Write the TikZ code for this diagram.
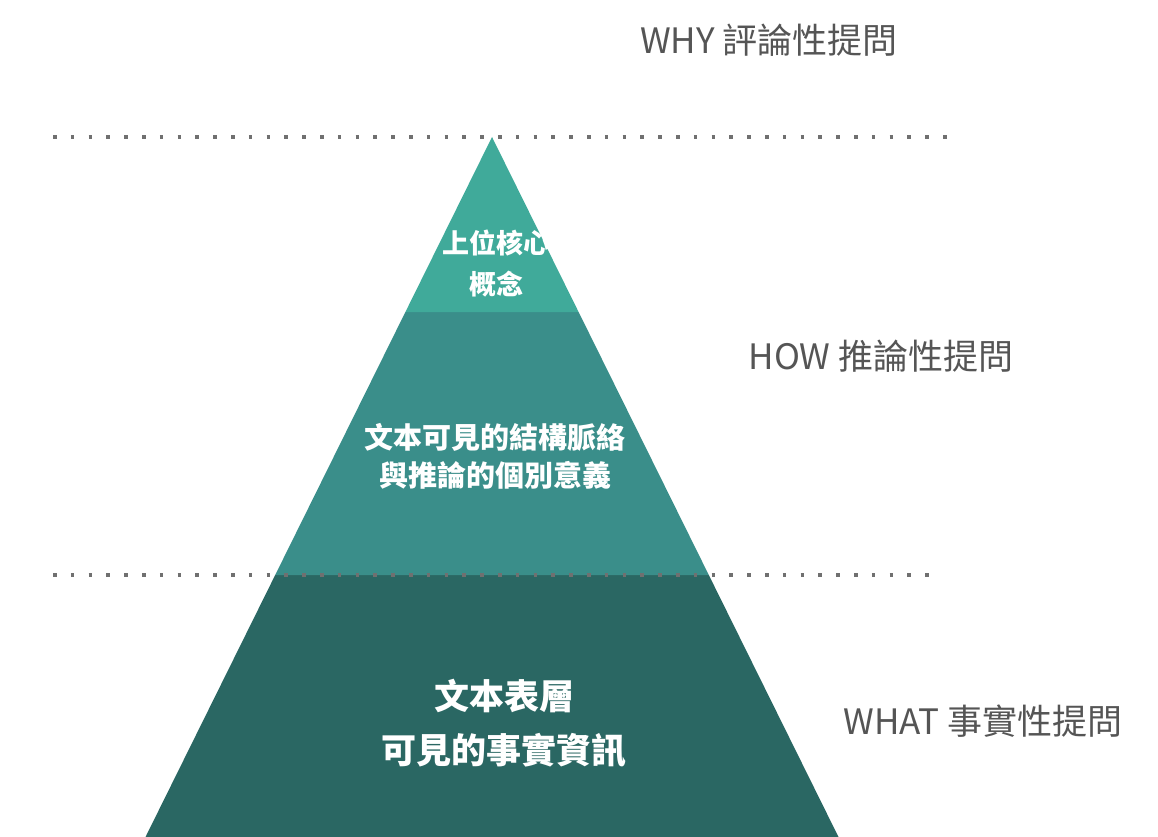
\documentclass[tikz,border=0pt]{standalone}
\usepackage{fontspec}
\setmainfont{Noto Sans CJK TC}
\newfontfamily\cjkfont{Noto Sans CJK TC}
\definecolor{bandtop}{HTML}{40AA9A}
\definecolor{bandmid}{HTML}{3A8E8A}
\definecolor{bandbot}{HTML}{2A6763}
\definecolor{labelgray}{HTML}{555555}
\definecolor{dotgray}{HTML}{707070}
\tikzset{
  x=1pt, y=-1pt,
  sidelabel/.style={font=\cjkfont\fontsize{35}{40}\selectfont, text=labelgray, inner sep=0pt},
  bandtext/.style={font=\cjkfont\bfseries, text=white, align=center, inner sep=0pt},
  dotline/.style={draw=dotgray, line width=3.5pt, dash pattern=on 3.5pt off 14.3pt},
}
\begin{document}
\begin{tikzpicture}
\useasboundingbox (0,0) rectangle (1158,837);
\fill[white] (0,0) rectangle (1158,837);
% pyramid coordinates
\coordinate (apex) at (492,137);
\coordinate (l1) at (405.4,312);
\coordinate (r1) at (578.6,312);
\coordinate (l2) at (275.2,575);
\coordinate (r2) at (708.8,575);
\coordinate (l3) at (145.5,837);
\coordinate (r3) at (838.5,837);
% bands
\fill[bandbot] (l2) -- (r2) -- (r3) -- (l3) -- cycle;
\fill[bandmid] (l1) -- (r1) -- (r2) -- (l2) -- cycle;
\fill[bandtop] (apex) -- (r1) -- (l1) -- cycle;
% dotted lines
\coordinate (d1a) at (53,137);
\coordinate (d1b) at (950,137);
\coordinate (d2a) at (53,575);
\coordinate (d2b) at (930,575);
\draw[dotline] (d1a) -- (d1b);
\draw[dotline] (d2a) -- (d2b);
% band texts
\begin{scope}
\clip (apex) -- (r1) -- (l1) -- cycle;
\node[bandtext, font=\cjkfont\bfseries\fontsize{27}{41}\selectfont] (top) at (496,264) {上位核心\\概念};
\end{scope}
\node[bandtext, font=\cjkfont\bfseries\fontsize{29}{38}\selectfont] (mid) at (495,456) {文本可見的結構脈絡\\與推論的個別意義};
\node[bandtext, font=\cjkfont\bfseries\fontsize{35}{54}\selectfont] (bot) at (504,723) {文本表層\\可見的事實資訊};
% side labels
\node[sidelabel] (why) at (769,40) {WHY 評論性提問};
\node[sidelabel] (how) at (881,356) {HOW 推論性提問};
\node[sidelabel] (what) at (983,721) {WHAT 事實性提問};
\end{tikzpicture}
\end{document}
